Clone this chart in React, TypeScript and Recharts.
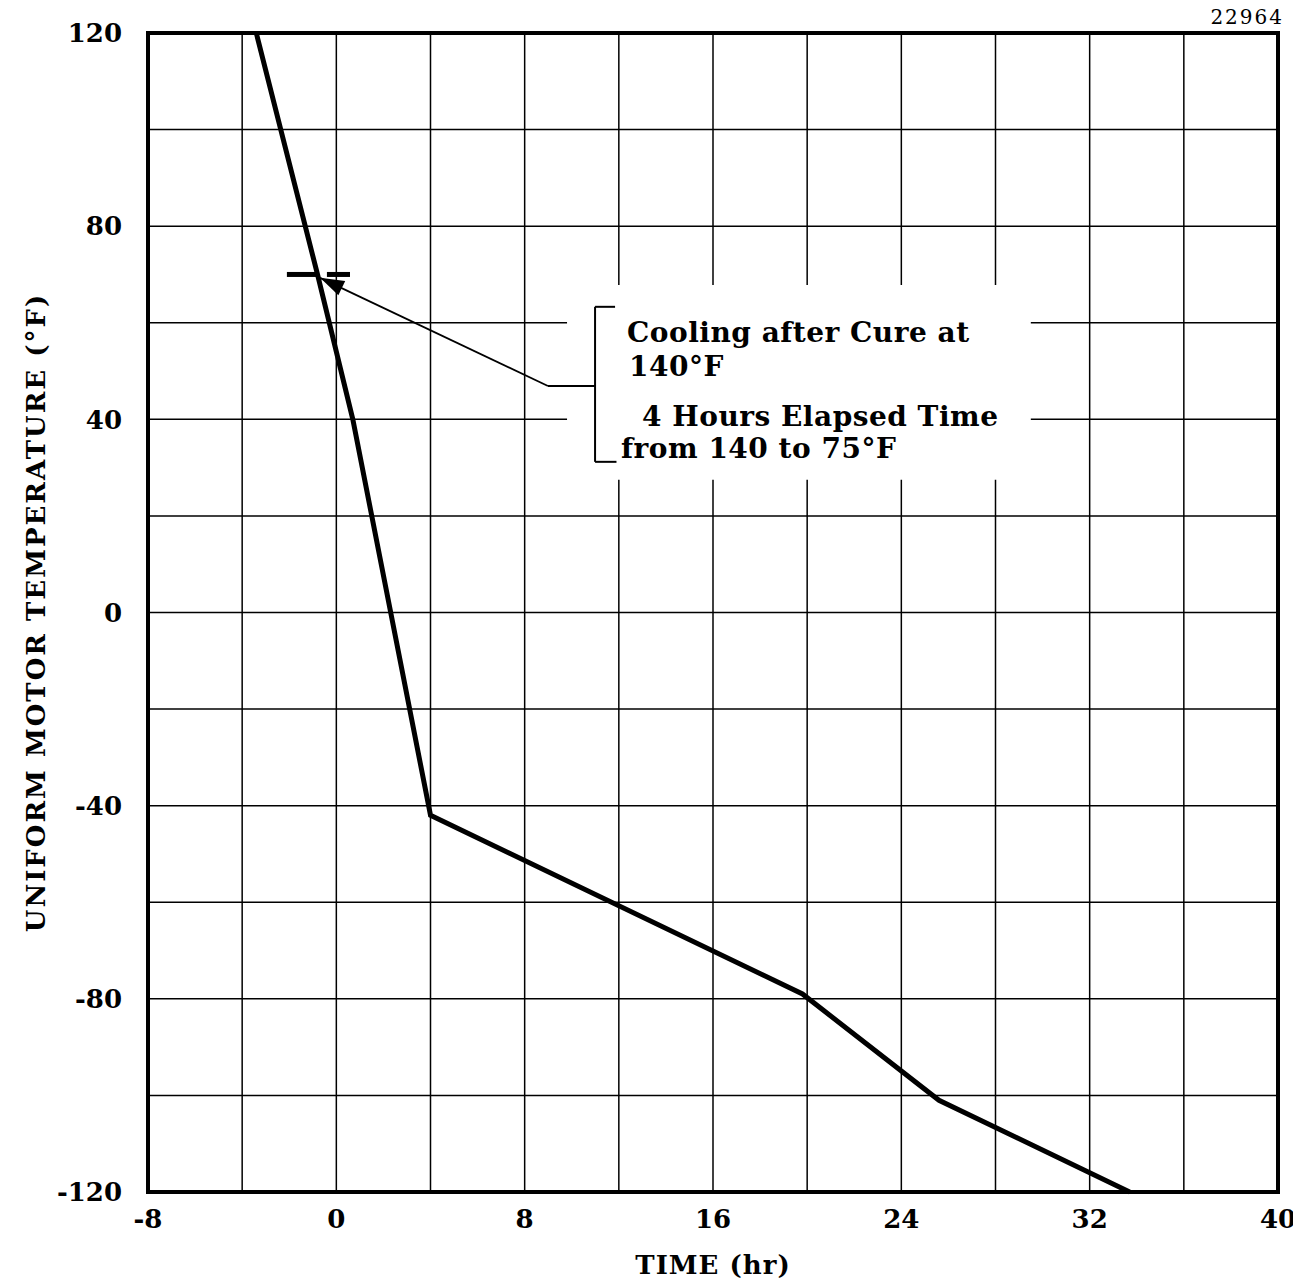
import React from 'react'
import {
  LineChart,
  Line,
  XAxis,
  YAxis,
  CartesianGrid,
  ReferenceArea,
  ReferenceLine,
  ReferenceDot,
  Label,
  Customized,
} from 'recharts'

// curve
const timeHr = [-3.4, -0.8, 0.7, 4.0, 19.8, 25.6, 33.7]
const tempF = [120, 70, 40, -42, -79, -101, -120]

const xTicks = [-8, -4, 0, 4, 8, 12, 16, 20, 24, 28, 32, 36, 40]
const yTicks = [-120, -100, -80, -60, -40, -20, 0, 20, 40, 60, 80, 100, 120]

// annotation geometry in data units
const markerTemp = 70
const markerLeft = [-2.1, -0.82]
const markerRight = [-0.4, 0.58]
const leaderPts = [
  { x: -0.69, y: 69.3 },
  { x: 8.99, y: 46.9 },
  { x: 10.99, y: 46.9 },
]
const bracketX = 10.99
const bracketTop = 63.3
const bracketBottom = 31.2
const noteBox = { x1: 9.8, x2: 29.5, y1: 27.5, y2: 67.8 }

const noteLines = [
  'Cooling after Cure at',
  '140°F',
  '4 Hours Elapsed Time',
  'from 140 to 75°F',
]
const figNumber = '22964'

const data = timeHr.map((t, i) => ({ t, temp: tempF[i] }))

const FONT = '"DejaVu Serif", serif'

function Arrowhead(props: any) {
  const { cx, cy } = props
  const dx = 0.904
  const dy = 0.428
  const len = 24
  const half = 8
  const bx = cx + dx * len
  const by = cy + dy * len
  const pts = [
    [cx, cy],
    [bx + dy * half, by - dx * half],
    [bx - dy * half, by + dx * half],
  ]
  return <polygon points={pts.map((p) => p.join(',')).join(' ')} fill="#000" />
}

// text offsets relative to the white note box
const noteOffsets = [
  { dx: 60, dy: 57 },
  { dx: 62, dy: 91 },
  { dx: 75, dy: 141 },
  { dx: 54, dy: 173 },
]

function renderNote(props: any) {
  const vb = props.viewBox || { x: 0, y: 0 }
  return (
    <g fontFamily={FONT} fontSize={28} fontWeight="bold" fill="#000">
      {noteLines.map((s, i) => (
        <text
          key={i}
          x={vb.x + noteOffsets[i].dx}
          y={vb.y + noteOffsets[i].dy}
          letterSpacing={0.5}
        >
          {s}
        </text>
      ))}
    </g>
  )
}

function FigNumber() {
  return (
    <text
      x={1284}
      y={24}
      textAnchor="end"
      fontFamily={FONT}
      fontSize={20}
      letterSpacing={2}
      fill="#000"
    >
      {figNumber}
    </text>
  )
}

const tickStyle = { fontSize: 26, fill: '#000', fontFamily: FONT, fontWeight: 'bold' as const }

export default function App() {
  return (
    <div style={{ margin: -8, background: '#fff' }}>
      <LineChart
        width={1301}
        height={1286}
        data={data}
        margin={{ top: 33, right: 23, bottom: 0, left: 0 }}
      >
        <CartesianGrid stroke="#000" strokeWidth={1.5} />
        <XAxis
          type="number"
          dataKey="t"
          domain={[-8, 40]}
          ticks={xTicks}
          interval={0}
          tickFormatter={(v) => (v % 8 === 0 ? String(v) : '')}
          tick={tickStyle}
          tickSize={0}
          tickMargin={18}
          axisLine={false}
          height={94}
          label={{
            value: 'TIME (hr)',
            position: 'insideBottom',
            offset: 12,
            style: { fontSize: 26, fill: '#000', fontFamily: FONT, fontWeight: 'bold', letterSpacing: 1 },
          }}
        />
        <YAxis
          type="number"
          domain={[-120, 120]}
          ticks={yTicks}
          interval={0}
          tickFormatter={(v) => (v % 40 === 0 ? String(v) : '')}
          tick={tickStyle}
          tickSize={0}
          tickMargin={26}
          axisLine={false}
          width={148}
          label={{
            value: 'UNIFORM MOTOR TEMPERATURE (°F)',
            angle: -90,
            position: 'insideLeft',
            offset: 36,
            style: {
              fontSize: 26,
              fill: '#000',
              fontFamily: FONT,
              fontWeight: 'bold',
              textAnchor: 'middle',
              letterSpacing: 2,
            },
          }}
        />
        <Customized component={<FigNumber />} />
        <ReferenceArea
          x1={noteBox.x1}
          x2={noteBox.x2}
          y1={noteBox.y1}
          y2={noteBox.y2}
          fill="#fff"
          fillOpacity={1}
          stroke="none"
        >
          <Label content={renderNote} />
        </ReferenceArea>
        <ReferenceArea
          x1={-8}
          x2={40}
          y1={-120}
          y2={120}
          fill="none"
          stroke="#000"
          strokeWidth={4}
        />
        <ReferenceLine
          segment={[
            { x: markerLeft[0], y: markerTemp },
            { x: markerLeft[1], y: markerTemp },
          ]}
          stroke="#000"
          strokeWidth={5}
        />
        <ReferenceLine
          segment={[
            { x: markerRight[0], y: markerTemp },
            { x: markerRight[1], y: markerTemp },
          ]}
          stroke="#000"
          strokeWidth={5}
        />
        <ReferenceLine segment={[leaderPts[0], leaderPts[1]]} stroke="#000" strokeWidth={1.8} />
        <ReferenceLine segment={[leaderPts[1], leaderPts[2]]} stroke="#000" strokeWidth={1.8} />
        <ReferenceLine
          segment={[
            { x: bracketX, y: bracketTop },
            { x: bracketX, y: bracketBottom },
          ]}
          stroke="#000"
          strokeWidth={2}
        />
        <ReferenceLine
          segment={[
            { x: bracketX, y: bracketTop },
            { x: 11.84, y: bracketTop },
          ]}
          stroke="#000"
          strokeWidth={2}
        />
        <ReferenceLine
          segment={[
            { x: bracketX, y: bracketBottom },
            { x: 11.9, y: bracketBottom },
          ]}
          stroke="#000"
          strokeWidth={2}
        />
        <ReferenceDot
          x={leaderPts[0].x}
          y={leaderPts[0].y}
          r={0}
          shape={(p: any) => <Arrowhead {...p} />}
        />
        <Line
          type="linear"
          dataKey="temp"
          stroke="#000"
          strokeWidth={5}
          dot={false}
          isAnimationActive={false}
        />
      </LineChart>
    </div>
  )
}
